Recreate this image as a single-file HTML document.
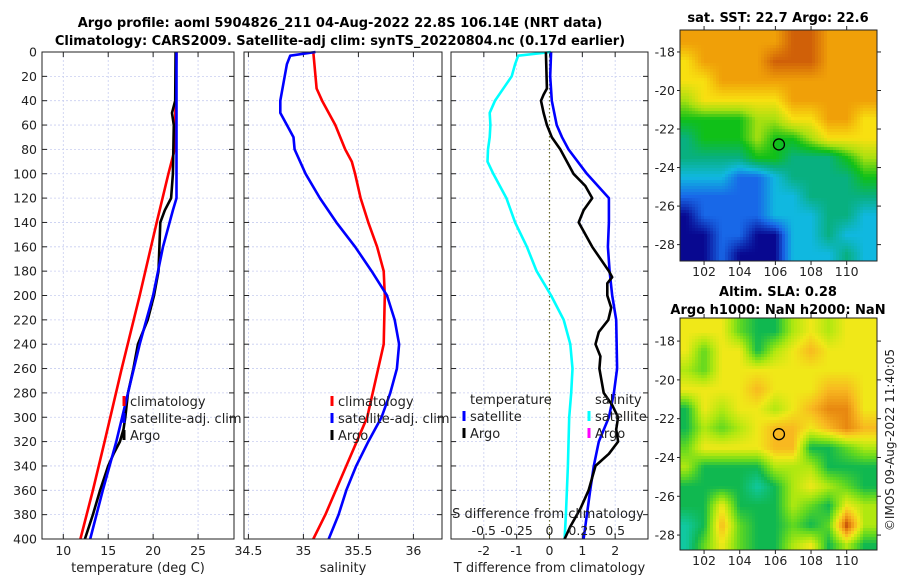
<!DOCTYPE html>
<html><head><meta charset="utf-8"><style>
html,body{margin:0;padding:0;background:#fff;}
svg{display:block;font-family:"DejaVu Sans","Liberation Sans",sans-serif;}
</style></head><body>
<svg id="fig" width="900" height="580" viewBox="0 0 900 580">
<text x="340" y="27" text-anchor="middle" font-size="13" font-weight="bold">Argo profile: aoml 5904826_211 04-Aug-2022 22.8S 106.14E (NRT data)</text>
<text x="340" y="45" text-anchor="middle" font-size="13" font-weight="bold">Climatology: CARS2009. Satellite-adj clim: synTS_20220804.nc (0.17d earlier)</text>
<text x="778" y="22" text-anchor="middle" font-size="13" font-weight="bold">sat. SST: 22.7 Argo: 22.6</text>
<text x="778" y="296" text-anchor="middle" font-size="13" font-weight="bold">Altim. SLA: 0.28</text>
<text x="778" y="314" text-anchor="middle" font-size="13" font-weight="bold">Argo h1000: NaN h2000: NaN</text>
<text x="0" y="0" transform="translate(894,440) rotate(-90)" text-anchor="middle" font-size="12" fill="#222">©IMOS 09-Aug-2022 11:40:05</text>
<g id="layer"></g>
</svg>
<script>
// ---------- Profile data (depth in dbar) ----------
const tClimDepth = [0,80,100,140,200,260,320,360,400];
const tClimVal   = [22.6,22.4,21.7,20.4,18.5,16.5,14.6,13.3,11.9];
const tSatDepth  = [0,120,130,160,200,240,280,320,360,400];
const tSatVal    = [22.6,22.6,22.2,21.1,20.0,18.5,17.2,15.9,14.4,13.0];
const tArgoDepth = [0,40,50,60,100,120,130,140,160,180,200,220,240,260,280,300,310,320,330,340,360,380,400];
const tArgoVal   = [22.5,22.45,22.1,22.3,22.2,22.0,21.3,20.8,20.7,20.6,20.1,19.4,18.3,17.8,17.2,16.9,16.7,16.3,15.6,15.0,14.1,13.3,12.4];

const sClimDepth = [0,20,30,40,50,60,80,90,100,120,140,160,180,200,240,260,300,340,380,400];
const sClimVal   = [35.09,35.11,35.12,35.17,35.23,35.29,35.38,35.44,35.47,35.52,35.59,35.67,35.73,35.74,35.73,35.68,35.58,35.39,35.2,35.09];
const sSatDepth  = [0,3,10,20,40,50,60,70,80,100,120,140,160,180,200,220,240,260,280,300,320,340,360,380,400];
const sSatVal    = [35.11,34.88,34.85,34.83,34.79,34.79,34.85,34.91,34.92,35.02,35.15,35.3,35.47,35.62,35.76,35.83,35.87,35.85,35.79,35.71,35.59,35.48,35.39,35.32,35.23];

const dtSatDepth = [0,20,40,60,70,80,100,120,140,160,180,200,220,260,280,300,320,340,360,380,400];
const dtSatVal   = [0.05,0.02,0.07,0.22,0.38,0.58,1.14,1.81,1.81,1.78,1.83,1.91,2.03,2.06,1.96,1.81,1.5,1.35,1.24,1.14,1.04];
const dtArgoDepth = [0,30,35,40,50,60,70,80,100,110,120,130,140,160,180,185,190,200,210,220,230,240,250,260,280,290,300,310,320,330,340,360,375,390,400];
const dtArgoVal   = [-0.11,-0.08,-0.18,-0.26,-0.18,-0.08,0.07,0.33,0.73,1.09,1.3,1.04,0.89,1.3,1.81,1.91,1.76,1.76,1.88,1.79,1.5,1.4,1.55,1.52,1.65,1.91,2.09,2.03,2.09,1.81,1.4,1.19,0.94,0.63,0.46];
const dsSatDepth = [0,3,10,20,40,50,60,70,80,90,100,120,140,160,180,200,220,240,260,280,300,340,380,400];
const dsSatVal   = [0.012,-0.238,-0.262,-0.288,-0.415,-0.455,-0.45,-0.455,-0.468,-0.472,-0.428,-0.328,-0.262,-0.172,-0.098,0.012,0.108,0.158,0.175,0.165,0.15,0.14,0.125,0.115];

const depthTicks = [0,20,40,60,80,100,120,140,160,180,200,220,240,260,280,300,320,340,360,380,400];
const tTicks = [10,15,20,25];
const sTicks = [34.5,35,35.5,36];
const dTTicks = [-2,-1,0,1,2];
const dSTickVals = [-0.5,-0.25,0,0.25,0.5];
const dSTickLabels = ["-0.5","-0.25","0","0.25","0.5"];

// ---------- Map data (rows lat -17.5 .. -28.5, cols lon 101 .. 111) ----------
const mapLats = [-17.5,-18.5,-19.5,-20.5,-21.5,-22.5,-23.5,-24.5,-25.5,-26.5,-27.5,-28.5];
const mapLons = [101,102,103,104,105,106,107,108,109,110,111];
const sstGrid = [
 [8,8,8,8,8,8,9,9,8,8,8],
 [7,8,8,8,8,9,9,9,8,8,8],
 [7,7,8,8,8,8,8,8,8,8,8],
 [6,7,7,7,7,7,8,8,8,8,8],
 [5,5,5,5,6,6,7,7,8,8,7],
 [4,5,5,5,6,5,5,6,7,7,7],
 [4,4,4,4,5,5,4,4,4,5,6],
 [3,3,3,2,2,3,4,4,4,4,5],
 [2,2,2,2,2,3,3,4,4,4,4],
 [1,2,2,2,2,3,3,3,4,4,3],
 [1,1,2,2,1,1,3,3,4,3,3],
 [1,1,2,1,1,1,3,3,3,4,3]];
const slaGrid = [
 [7,7,7,5,4,4,6,7,6,7,7],
 [7,5,7,7,4,6,7,8,7,7,7],
 [6,5,7,7,7,7,7,7,7,7,7],
 [7,7,7,7,8,7,7,7,8,8,7],
 [4,7,6,7,7,6,7,8,9,9,7],
 [4,6,5,6,7,8,8,7,8,9,8],
 [5,7,7,7,7,8,8,4,4,5,6],
 [6,4,4,4,4,6,6,6,4,4,4],
 [4,4,4,4,3,4,6,7,6,5,4],
 [4,4,7,4,4,4,6,5,4,7,6],
 [3,4,8,5,4,4,5,4,5,10,6],
 [3,5,7,5,4,4,6,7,4,6,4]];
const argoLon = 106.2, argoLat = -22.8;
const lonTicks = [102,104,106,108,110];
const latTicks = [-18,-20,-22,-24,-26,-28];

const NS="http://www.w3.org/2000/svg";
const layer=document.getElementById('layer');
function mk(tag,attrs,parent){const e=document.createElementNS(NS,tag);for(const k in attrs)e.setAttribute(k,attrs[k]);(parent||layer).appendChild(e);return e;}
function txt(x,y,s,size,anchor,parent){const t=mk('text',{x:x,y:y,'font-size':size,'text-anchor':anchor||'middle',fill:'#222'},parent);t.textContent=s;return t;}

const Y0=52,Y1=539;
function yD(d){return Y0+(d/400)*(Y1-Y0);}
function lin(a0,a1,p0,p1){return v=>p0+(v-a0)/(a1-a0)*(p1-p0);}

function panel(name,x0,x1,xmin,xmax,ticks,tickLabels,xlabel,showY){
  const g=mk('g',{});
  
  
  const X=lin(xmin,xmax,x0,x1);
  for(const d of depthTicks){const l=mk('line',{x1:x0,x2:x1,y1:yD(d),y2:yD(d),stroke:'#c8cef0','stroke-width':0.8,'stroke-dasharray':'2,2'},g);
    }
  for(const t of ticks){const l=mk('line',{x1:X(t),x2:X(t),y1:Y0,y2:Y1,stroke:'#c8cef0','stroke-width':0.8,'stroke-dasharray':'2,2'},g);
    }
  for(const d of depthTicks){
    mk('line',{x1:x0,x2:x0+5,y1:yD(d),y2:yD(d),stroke:'#222'},g);
    mk('line',{x1:x1-5,x2:x1,y1:yD(d),y2:yD(d),stroke:'#222'},g);
    if(showY){const t=txt(37,yD(d)+4.5,String(d),12.5,'end',g);}
  }
  ticks.forEach((t,i)=>{
    mk('line',{x1:X(t),x2:X(t),y1:Y1,y2:Y1-5,stroke:'#222'},g);
    mk('line',{x1:X(t),x2:X(t),y1:Y0,y2:Y0+5,stroke:'#222'},g);
    const l=txt(X(t),555,tickLabels[i],12.5,'middle',g);
    
    
  });
  const xl=txt((x0+x1)/2,572,xlabel,13,'middle',g);
  
  
  return {g,X,x0,x1};
}
function line(p,depths,vals,color,name,scale){
  const pts=depths.map((d,i)=>p.X(vals[i]*(scale||1)).toFixed(1)+','+yD(d).toFixed(1)).join(' ');
  const pl=mk('polyline',{points:pts,fill:'none',stroke:color,'stroke-width':2.6,'stroke-linejoin':'round'},p.g);
  
  
}
function legend(g,x,y,color,label){
  mk('rect',{x:x-1.5,y:y-10,width:3,height:10,fill:color},g);
  const t=txt(x+6,y,label,13,'start',g);
  
  
}
function box(p){const r=mk('rect',{x:p.x0,y:Y0,width:p.x1-p.x0,height:Y1-Y0,fill:'none',stroke:'#222','stroke-width':1},p.g);
  }

// Panel 1
const p1=panel('temperature-panel',42,234,7.63,29.0,tTicks,tTicks.map(String),'temperature (deg C)',true);
line(p1,tClimDepth,tClimVal,'#ff0000','temp-climatology-line');
line(p1,tArgoDepth,tArgoVal,'#000000','temp-argo-line');
line(p1,tSatDepth,tSatVal,'#0000ff','temp-satellite-line');
legend(p1.g,124,406,'#ff0000','climatology');
legend(p1.g,124,423,'#0000ff','satellite-adj. clim');
legend(p1.g,124,440,'#000000','Argo');
box(p1);

// Panel 2
const p2=panel('salinity-panel',244,442,34.46,36.26,sTicks,sTicks.map(String),'salinity',false);
line(p2,sClimDepth,sClimVal,'#ff0000','sal-climatology-line');
line(p2,sSatDepth,sSatVal,'#0000ff','sal-satellite-line');
legend(p2.g,332,406,'#ff0000','climatology');
legend(p2.g,332,423,'#0000ff','satellite-adj. clim');
legend(p2.g,332,440,'#000000','Argo');
box(p2);

// Panel 3
const p3=panel('difference-panel',451,648,-3,3,dTTicks,dTTicks.map(String),'T difference from climatology',false);
const zl=mk('line',{x1:p3.X(0),x2:p3.X(0),y1:Y0,y2:Y1,stroke:'#6b6b20','stroke-width':1.2,'stroke-dasharray':'1.5,2.5'},p3.g);


line(p3,dsSatDepth,dsSatVal,'#00ffff','sdiff-satellite-line',4);
line(p3,dtSatDepth,dtSatVal,'#0000ff','tdiff-satellite-line');
line(p3,dtArgoDepth,dtArgoVal,'#000000','tdiff-argo-line');
{const t=txt(470,404,'temperature',13,'start',p3.g);}
legend(p3.g,464,421,'#0000ff','satellite');
legend(p3.g,464,438,'#000000','Argo');
{const t=txt(595,404,'salinity',13,'start',p3.g);}
legend(p3.g,589,421,'#00ffff','satellite');
legend(p3.g,589,438,'#ff00ff','Argo');
{const t=txt(548,518,'S difference from climatology',13,'middle',p3.g);}
dSTickVals.forEach((v,i)=>{const t=txt(p3.X(v*4),535,dSTickLabels[i],12.5,'middle',p3.g);
  
  });
box(p3);

// ---------- Maps ----------
const sstStops=[[1,[8,8,144]],[2,[24,104,232]],[3,[16,184,224]],[4,[8,176,128]],[5,[16,192,24]],[6,[168,224,16]],[7,[248,224,16]],[8,[240,160,8]],[9,[208,96,8]]];
const slaStops=[[3,[16,200,160]],[4,[16,184,80]],[5,[96,216,32]],[6,[176,232,16]],[7,[240,232,24]],[8,[248,184,32]],[9,[232,136,16]],[10,[192,72,8]]];
function cmap(stops,v){
  if(v<=stops[0][0])return stops[0][1];
  for(let i=1;i<stops.length;i++){if(v<=stops[i][0]){const a=stops[i-1],b=stops[i];const f=(v-a[0])/(b[0]-a[0]);
    return a[1].map((c,k)=>Math.round(c+(b[1][k]-c)*f));}}
  return stops[stops.length-1][1];
}
function sample(grid,lon,lat){
  let fx=(lon-mapLons[0])/(mapLons[1]-mapLons[0]);let fy=(lat-mapLats[0])/(mapLats[1]-mapLats[0]);
  fx=Math.max(0,Math.min(mapLons.length-1,fx));fy=Math.max(0,Math.min(mapLats.length-1,fy));
  const i0=Math.floor(fx),j0=Math.floor(fy),i1=Math.min(i0+1,mapLons.length-1),j1=Math.min(j0+1,mapLats.length-1);
  const ax=fx-i0,ay=fy-j0;
  return grid[j0][i0]*(1-ax)*(1-ay)+grid[j0][i1]*ax*(1-ay)+grid[j1][i0]*(1-ax)*ay+grid[j1][i1]*ax*ay;
}
function drawMap(name,grid,stops,x0,x1,y0,y1,lonMin,lonMax,latTop,latBot,step){
  const g=mk('g',{});
  
  
  const X=lin(lonMin,lonMax,x0,x1),Y=lin(latTop,latBot,y0,y1);
  for(let py=y0;py<y1;py+=step){for(let px=x0;px<x1;px+=step){
    const lon=lonMin+(px+step/2-x0)/(x1-x0)*(lonMax-lonMin);
    const lat=latTop+(py+step/2-y0)/(y1-y0)*(latBot-latTop);
    const c=cmap(stops,sample(grid,lon,lat));
    mk('rect',{x:px,y:py,width:Math.min(step+0.3,x1-px),height:Math.min(step+0.3,y1-py),fill:'rgb('+c.join(',')+')'},g);
  }}
  const fr=mk('rect',{x:x0,y:y0,width:x1-x0,height:y1-y0,fill:'none',stroke:'#222'},g);
  
  
  for(const t of lonTicks){mk('line',{x1:X(t),x2:X(t),y1:y1,y2:y1+4,stroke:'#222'},g);mk('line',{x1:X(t),x2:X(t),y1:y0,y2:y0-4,stroke:'#222'},g);
    const l=txt(X(t),y1+15,String(t),12.5,'middle',g);}
  for(const t of latTicks){mk('line',{x1:x1,x2:x1+4,y1:Y(t),y2:Y(t),stroke:'#222'},g);mk('line',{x1:x0,x2:x0-3,y1:Y(t),y2:Y(t),stroke:'#222'},g);
    const l=txt(x0-5,Y(t)+4.5,String(t),12.5,'end',g);}
  const c=mk('ellipse',{cx:X(argoLon),cy:Y(argoLat),rx:5.5,ry:5.5,fill:'none',stroke:'#000','stroke-width':1.3},g);
  
  
}
drawMap('sst-map',sstGrid,sstStops,680,877,30,261,100.65,111.7,-16.86,-28.85,3);
drawMap('sla-map',slaGrid,slaStops,680,877,318,550,100.65,111.7,-16.81,-28.77,3);
</script>
</body></html>
